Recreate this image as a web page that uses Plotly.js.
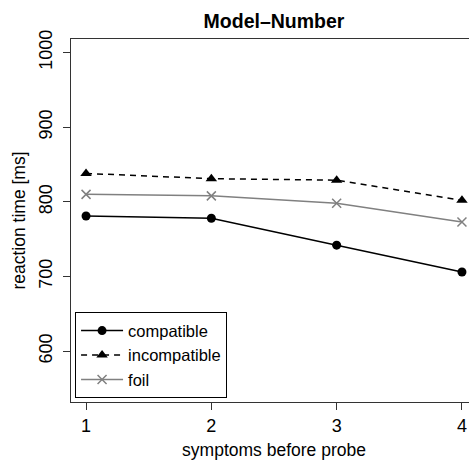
<!DOCTYPE html>
<html>
<head>
<meta charset="utf-8">
<script src="https://cdn.plot.ly/plotly-3.0.1.min.js"></script>
<style>
html,body{margin:0;padding:0;overflow:hidden;background:#fff;width:469px;height:460px;}
#chart{width:478px;height:460px;}
</style>
</head>
<body>
<div id="chart"></div>
<script>
const symptoms = [1, 2, 3, 4];
const compatible = [781, 778, 742, 706];
const incompatible = [838, 831, 829, 802];
const foil = [810, 808, 798, 773];
const seriesNames = ["compatible", "incompatible", "foil"];
const yTicks = [600, 700, 800, 900, 1000];
const xTicks = [1, 2, 3, 4];

const FONT = "Liberation Sans, Arial, Helvetica, sans-serif";

const traces = [
  {
    x: symptoms, y: compatible, name: seriesNames[0], type: "scatter", mode: "lines+markers",
    line: {color: "#000", width: 1.5, dash: "solid"},
    marker: {symbol: "circle", size: 9, color: "#000"}
  },
  {
    x: symptoms, y: incompatible, name: seriesNames[1], type: "scatter", mode: "lines+markers",
    line: {color: "#000", width: 1.5, dash: "6px,5px"},
    marker: {symbol: "triangle-up", size: 10, color: "#000"}
  },
  {
    x: symptoms, y: foil, name: seriesNames[2], type: "scatter", mode: "lines+markers",
    line: {color: "#808080", width: 1.5, dash: "solid"},
    marker: {symbol: "x-thin", size: 9, color: "#808080", line: {color: "#808080", width: 1.5}}
  }
];

const layout = {
  width: 478, height: 460,
  margin: {l: 71, r: 1, t: 39, b: 58, pad: 0},
  paper_bgcolor: "#fff", plot_bgcolor: "#fff",
  font: {family: FONT, size: 18, color: "#000"},
  title: {text: "<b>Model–Number</b>", font: {family: FONT, size: 19.5, color: "#000"},
          x: 0.5, xref: "paper", xanchor: "center", y: 0.955, yanchor: "middle"},
  showlegend: true,
  legend: {
    x: 0.01, y: 0.01, xanchor: "left", yanchor: "bottom",
    bordercolor: "#000", borderwidth: 1, bgcolor: "#fff",
    font: {family: FONT, size: 16.5, color: "#000"},
    itemwidth: 42,
    tracegroupgap: 0
  },
  xaxis: {
    range: [0.88, 4.12], tickmode: "array", tickvals: xTicks, ticktext: xTicks.map(String),
    showgrid: false, zeroline: false, showline: true, mirror: true, linecolor: "#333", linewidth: 1,
    ticks: "outside", ticklen: 7, tickcolor: "#333", tickwidth: 1,
    tickfont: {family: FONT, size: 18, color: "#000"},
    title: {text: "symptoms before probe", font: {family: FONT, size: 17.5, color: "#000"}, standoff: 14}
  },
  yaxis: {
    range: [532, 1018], tickmode: "array", tickvals: yTicks, ticktext: yTicks.map(String),
    tickangle: -90, ticklabelstandoff: 4,
    showgrid: false, zeroline: false, showline: true, mirror: true, linecolor: "#333", linewidth: 1,
    ticks: "outside", ticklen: 7, tickcolor: "#333", tickwidth: 1,
    tickfont: {family: FONT, size: 18, color: "#000"},
    title: {text: "reaction time [ms]", font: {family: FONT, size: 17.5, color: "#000"}, standoff: 5}
  }
};

Plotly.newPlot("chart", traces, layout, {displayModeBar: false, staticPlot: true});
</script>
</body>
</html>
